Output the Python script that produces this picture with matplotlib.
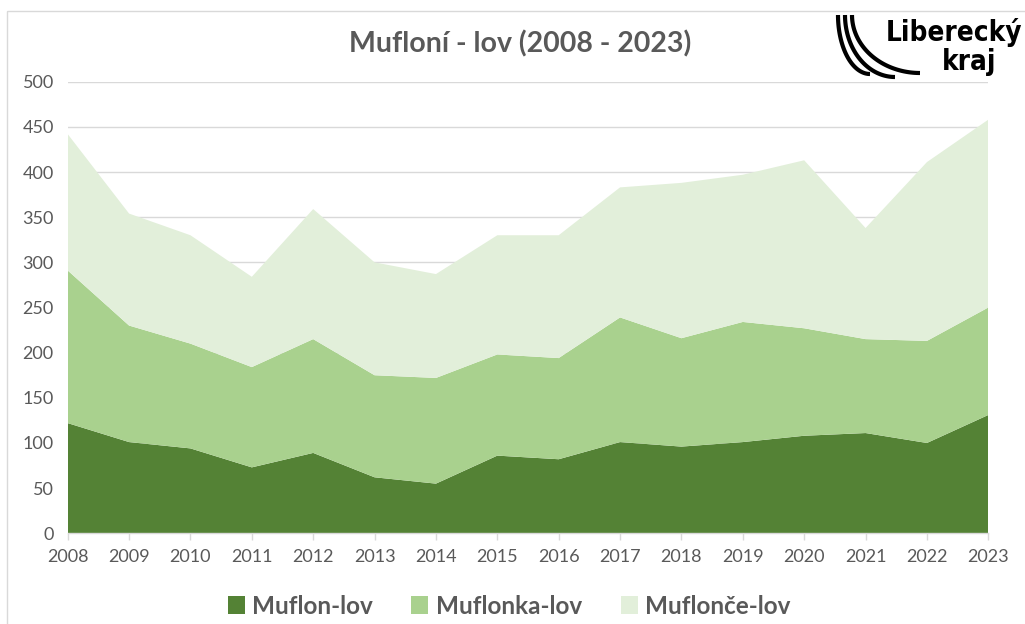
import matplotlib
matplotlib.use("Agg")
import matplotlib.pyplot as plt
import numpy as np
from matplotlib.patches import Patch, Rectangle

# ---------------------------------------------------------------
# Data
# ---------------------------------------------------------------
roky = ['2008', '2009', '2010', '2011', '2012', '2013', '2014', '2015',
        '2016', '2017', '2018', '2019', '2020', '2021', '2022', '2023']
muflon_lov   = [122, 101, 94, 73, 89, 62, 55, 86, 82, 101, 96, 101, 108, 111, 100, 131]
muflonka_lov = [169, 129, 116, 111, 126, 113, 117, 112, 112, 138, 120, 133, 119, 104, 113, 119]
muflonce_lov = [151, 124, 120, 100, 144, 125, 115, 132, 136, 144, 172, 163, 186, 123, 198, 208]
serie = ['Muflon-lov', 'Muflonka-lov', 'Muflonče-lov']

barvy = ['#548235', '#A9D18E', '#E2EFDA']
seda = '#595959'
font = ['Lato', 'DejaVu Sans']
plt.rcParams['font.family'] = font

W, H = 1025, 624
fig = plt.figure(figsize=(W / 100, H / 100), dpi=100)

# hranice grafu ------------------------------------------------------
L, R, T, B = 67.7, 988.3, 81.7, 533.3
ax = fig.add_axes([L / W, 1 - B / H, (R - L) / W, (B - T) / H])

x = np.arange(len(roky))
ax.stackplot(x, muflon_lov, muflonka_lov, muflonce_lov, colors=barvy, linewidth=0, zorder=2)

ax.set_xlim(0, len(roky) - 1)
ax.set_ylim(0, 500)
ax.set_yticks(np.arange(0, 501, 50))
ax.set_xticks(x)
ax.set_xticklabels(roky)

ax.grid(axis='y', color='#D9D9D9', linewidth=1.0, zorder=0)
ax.set_axisbelow(True)
for s in ['left', 'right', 'top']:
    ax.spines[s].set_visible(False)
ax.spines['bottom'].set_color('#D9D9D9')
ax.spines['bottom'].set_linewidth(1.0)
ax.spines['bottom'].set_zorder(3)

ax.tick_params(axis='y', length=0, pad=10, labelsize=13, labelcolor=seda)
ax.tick_params(axis='x', length=5, width=1.0, color='#D9D9D9', pad=6, labelsize=13, labelcolor=seda)

# nadpis --------------------------------------------------------------
fig.text(520 / W, 1 - 44 / H, 'Mufloní - lov (2008 - 2023)', ha='center', va='center',
         fontsize=20.5, fontweight='bold', color=seda)

# legenda -------------------------------------------------------------
handles = [Patch(facecolor=c, edgecolor='none') for c in barvy]
leg = fig.legend(handles, serie, loc='center', bbox_to_anchor=(509 / W, 1 - 606 / H), ncol=3,
                 frameon=False, handlelength=0.7, handleheight=0.7, handletextpad=0.3,
                 columnspacing=1.6, prop={'family': font, 'weight': 'bold', 'size': 17.5})
for t in leg.get_texts():
    t.set_color(seda)

# ram grafu + logo ----------------------------------------------------
ov = fig.add_axes([0, 0, 1, 1], zorder=5)
ov.set_xlim(0, W)
ov.set_ylim(H, 0)
ov.axis('off')
ov.add_patch(Rectangle((7, 11), W + 20, H + 20, fill=False, edgecolor='#D9D9D9', linewidth=1.0))

t = np.linspace(0, np.pi / 2, 60)
for x0, x1, y1 in [(838, 870, 74), (845, 895, 77), (852, 920, 73)]:
    ov.plot(x1 - (x1 - x0) * np.cos(t), 15 + (y1 - 15) * np.sin(t), color='black',
            linewidth=3.0, solid_capstyle='butt')
logo_font = ['DejaVu Sans', 'Lato']
ov.text(1022, 41, 'Liberecký', ha='right', va='baseline', fontsize=20, fontweight='bold',
        fontstretch='condensed', color='black', family=logo_font)
ov.text(996, 70, 'kraj', ha='right', va='baseline', fontsize=20, fontweight='bold',
        fontstretch='condensed', color='black', family=logo_font)

fig.savefig('out.png', dpi=100)
